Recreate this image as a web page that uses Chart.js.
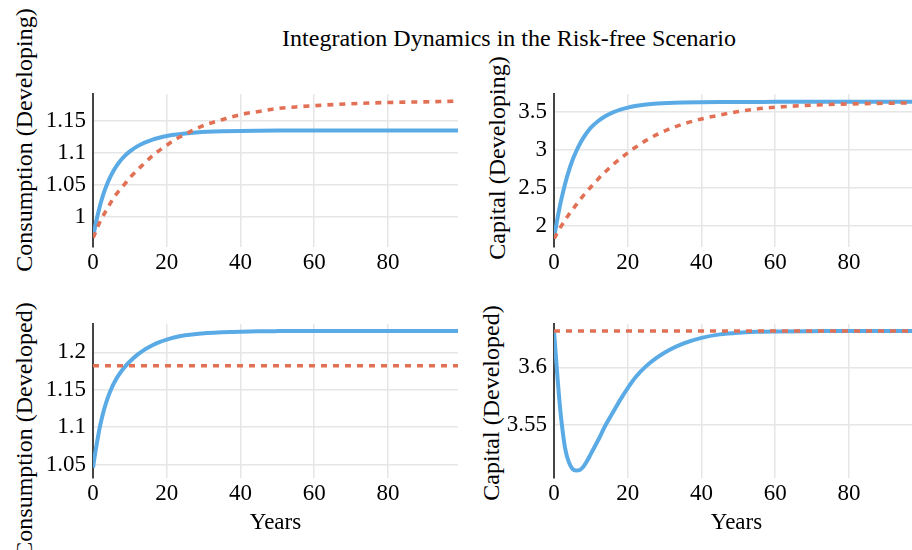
<!DOCTYPE html>
<html>
<head>
<meta charset="utf-8">
<script src="https://cdn.jsdelivr.net/npm/chart.js@4.4.1/dist/chart.umd.min.js"></script>
<style>
html, body { margin:0; padding:0; width:912px; height:550px; overflow:hidden; background:#fff; }
canvas { position:absolute; }
.txt { position:absolute; font-family:'Liberation Serif','Times New Roman',serif; color:#000; white-space:nowrap; line-height:1; }
.ytitle { transform:translate(-50%,-50%) rotate(-90deg); font-size:24px; }
</style>
</head>
<body>
<div class="txt" style="left:509px;top:38px;transform:translate(-50%,-50%);font-size:24px;">Integration Dynamics in the Risk-free Scenario</div>
<div class="txt ytitle" style="left:24px;top:140px;">Consumption (Developing)</div>
<div class="txt ytitle" style="left:497px;top:158px;">Capital (Developing)</div>
<div class="txt ytitle" style="left:24px;top:430px;">Consumption (Developed)</div>
<div class="txt ytitle" style="left:491px;top:403px;">Capital (Developed)</div>

<canvas id="p1" width="460" height="193" style="left:0px;top:84px;"></canvas>
<canvas id="p2" width="451" height="193" style="left:470px;top:84px;"></canvas>
<canvas id="p3" width="460" height="224" style="left:0px;top:314px;"></canvas>
<canvas id="p4" width="451" height="224" style="left:470px;top:314px;"></canvas>

<script>
// ---- Data ----
const years = [0,0.5,1,1.5,2,3,4,5,6,7,8,9,10,12,14,16,18,20,22,25,28,31,35,40,45,50,55,60,70,80,90,99];

const consDevelopingIntegration = [0.967,0.982,0.996,1.008,1.0195,1.0385,1.0536,1.066,1.0762,1.0846,1.0916,1.0975,1.1024,1.1102,1.1161,1.1205,1.1238,1.1264,1.1284,1.1305,1.132,1.133,1.1338,1.1344,1.1347,1.1349,1.135,1.135,1.135,1.135,1.135,1.135];
const consDevelopingAutarky     = [0.967,0.973,0.980,0.987,0.993,1.004,1.014,1.024,1.033,1.040,1.047,1.054,1.061,1.073,1.084,1.095,1.104,1.112,1.120,1.129,1.138,1.145,1.152,1.160,1.165,1.1695,1.172,1.174,1.177,1.179,1.180,1.181];

const capDevelopingIntegration  = [1.830,1.977,2.112,2.236,2.350,2.551,2.720,2.863,2.979,3.078,3.161,3.232,3.293,3.381,3.447,3.495,3.531,3.558,3.5775,3.598,3.611,3.6194,3.625,3.6285,3.6307,3.632,3.6328,3.6333,3.6338,3.634,3.634,3.634];
const capDevelopingAutarky      = [1.830,1.870,1.915,1.957,1.998,2.075,2.145,2.210,2.275,2.340,2.400,2.455,2.510,2.617,2.715,2.805,2.885,2.960,3.030,3.125,3.205,3.270,3.340,3.408,3.460,3.505,3.540,3.562,3.590,3.606,3.615,3.620];

const consDevelopedIntegration  = [1.046,1.0625,1.0775,1.0912,1.1036,1.1236,1.1391,1.1516,1.1616,1.1698,1.1767,1.1826,1.1878,1.1965,1.2036,1.2091,1.2136,1.217,1.2198,1.2227,1.2245,1.2257,1.2267,1.2275,1.228,1.2283,1.2285,1.2286,1.2286,1.2286,1.2286,1.2286];
const consDevelopedAutarky      = [1.182,1.182,1.182,1.182,1.182,1.182,1.182,1.182,1.182,1.182,1.182,1.182,1.182,1.182,1.182,1.182,1.182,1.182,1.182,1.182,1.182,1.182,1.182,1.182,1.182,1.182,1.182,1.182,1.182,1.182,1.182,1.182];

const capDevelopedIntegration   = [3.6315,3.610,3.589,3.570,3.554,3.530,3.518,3.512,3.5105,3.511,3.514,3.519,3.525,3.537,3.550,3.561,3.572,3.582,3.591,3.601,3.6085,3.6145,3.6205,3.6255,3.6285,3.630,3.6307,3.631,3.6313,3.6315,3.6315,3.6315];
const capDevelopedAutarky       = [3.6315,3.6315,3.6315,3.6315,3.6315,3.6315,3.6315,3.6315,3.6315,3.6315,3.6315,3.6315,3.6315,3.6315,3.6315,3.6315,3.6315,3.6315,3.6315,3.6315,3.6315,3.6315,3.6315,3.6315,3.6315,3.6315,3.6315,3.6315,3.6315,3.6315,3.6315,3.6315];

// tick labels
const xTicks = [0,20,40,60,80];
const yTicksConsDeveloping = [1, 1.05, 1.1, 1.15];
const yTicksCapDeveloping  = [2, 2.5, 3, 3.5];
const yTicksConsDeveloped  = [1.05, 1.1, 1.15, 1.2];
const yTicksCapDeveloped   = [3.55, 3.6];

// ---- Styling ----
const BLUE = '#5aabe5';
const ORANGE = '#e17055';
Chart.defaults.font.family = "'Liberation Serif','Times New Roman',serif";
Chart.defaults.font.size = 23;
Chart.defaults.color = '#000';

function pts(vals) { return years.map((x, i) => ({ x: x, y: vals[i] })); }

function noPad(s) { s.paddingTop = 0; s.paddingBottom = 0; s.paddingLeft = 0; s.paddingRight = 0; }

function panel(id, blueVals, orangeVals, yMin, yMax, yTicks, yAxisW, xAxisH, showYears) {
  new Chart(document.getElementById(id), {
    type: 'line',
    data: {
      datasets: [
        { label: 'Autarky', data: pts(orangeVals), borderColor: ORANGE, borderWidth: 3.6,
          borderDash: [6, 6], borderCapStyle: 'butt', pointRadius: 0, fill: false,
          cubicInterpolationMode: 'monotone' },
        { label: 'Integration', data: pts(blueVals), borderColor: BLUE, borderWidth: 4,
          pointRadius: 0, fill: false, cubicInterpolationMode: 'monotone' }
      ]
    },
    options: {
      responsive: false, animation: false, devicePixelRatio: 1,
      layout: { padding: { top: 10, right: 2, left: 0, bottom: 0 } },
      plugins: { legend: { display: false }, tooltip: { enabled: false } },
      scales: {
        x: {
          type: 'linear', min: 0, max: 99,
          afterBuildTicks: s => { s.ticks = xTicks.map(v => ({ value: v })); },
          afterFit: s => { s.height = xAxisH; noPad(s); },
          ticks: { padding: 2, callback: v => String(v), maxRotation: 0 },
          grid: { color: '#e6e6e6', lineWidth: 1.5, drawTicks: false },
          border: { display: false },
          title: { display: showYears, text: 'Years', padding: { top: 0, bottom: 1 } }
        },
        y: {
          type: 'linear', min: yMin, max: yMax,
          afterBuildTicks: s => { s.ticks = yTicks.map(v => ({ value: v })); },
          afterFit: s => { s.width = yAxisW; noPad(s); },
          ticks: { padding: 7, callback: v => String(v) },
          grid: { color: '#e6e6e6', lineWidth: 1.5, drawTicks: false },
          border: { display: true, color: '#444', width: 2 }
        }
      }
    }
  });
}

panel('p1', consDevelopingIntegration, consDevelopingAutarky, 0.9525, 1.1923, yTicksConsDeveloping, 93, 30, false);
panel('p2', capDevelopingIntegration, capDevelopingAutarky, 1.719, 3.737, yTicksCapDeveloping, 84, 30, false);
panel('p3', consDevelopedIntegration, consDevelopedAutarky, 1.0322, 1.2378, yTicksConsDeveloped, 93, 60, true);
panel('p4', capDevelopedIntegration, capDevelopedAutarky, 3.5041, 3.6375, yTicksCapDeveloped, 84, 60, true);
</script>
</body>
</html>
